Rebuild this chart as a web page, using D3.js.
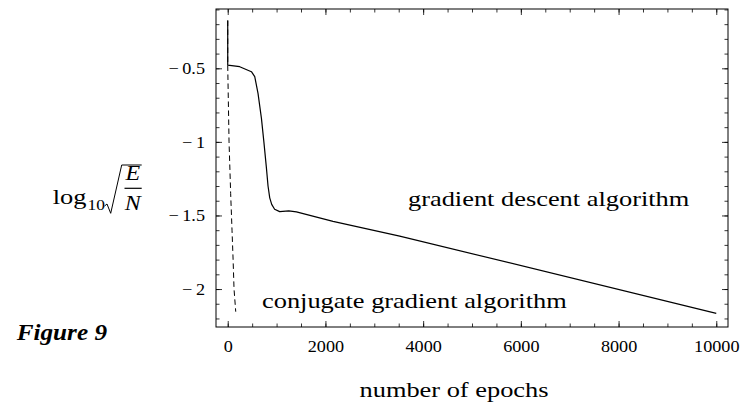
<!DOCTYPE html>
<html>
<head>
<meta charset="utf-8">
<script src="https://cdn.jsdelivr.net/npm/d3@7"></script>
<style>
  html, body { margin: 0; padding: 0; background: #fff; }
  svg { display: block; font-family: "Liberation Serif", "Times New Roman", serif; }
</style>
</head>
<body>
<svg id="chart" width="741" height="406"></svg>
<script>
// Training error, log10 sqrt(E/N), against epoch number
const gdEpochs = [0, 0, 245, 485, 553, 620, 690, 740, 790, 825, 860, 900, 960, 1064, 1250, 1406, 2155, 3520, 10000];
const gdError  = [-0.175, -0.478, -0.489, -0.523, -0.557, -0.67, -0.84, -1.0, -1.17, -1.3, -1.38, -1.425, -1.458, -1.474, -1.469, -1.476, -1.54, -1.64, -2.165];

const cgEpochs = [0, 0, 27, 60, 88, 110, 129, 164];
const cgError  = [-0.175, -0.48, -1.0, -1.35, -1.6, -1.8, -2.0, -2.154];

const epochTicks = [0, 2000, 4000, 6000, 8000, 10000];
const errorTicks = [-2, -1.5, -1, -0.5];
const errorTickLabels = ["\u2212\u20092", "\u2212\u20091.5", "\u2212\u20091", "\u2212\u20090.5"];

const svg = d3.select("#chart");
const frame = { left: 216, right: 728, top: 9, bottom: 327 };

const x = d3.scaleLinear().domain([-240, 10240]).range([frame.left, frame.right]);
const y = d3.scaleLinear().domain([-2.258, -0.097]).range([frame.bottom, frame.top]);

const TICK_FONT = 17, TICK_SX = 1.07;
const LABEL_FONT = 22, LABEL_SX = 1.2;

// frame
svg.append("rect")
  .attr("x", frame.left).attr("y", frame.top)
  .attr("width", frame.right - frame.left).attr("height", frame.bottom - frame.top)
  .attr("fill", "none").attr("stroke", "#000").attr("stroke-width", 1);

function styleAxis(g) {
  g.select(".domain").remove();
  g.selectAll("line").attr("stroke", "#000").attr("stroke-width", 0.8);
}

const minorEpochs = d3.range(0, 10001, 500);
const minorErrors = d3.range(-2.2, -0.05, 0.1);

// bottom axis (labelled)
svg.append("g").attr("transform", `translate(0,${frame.bottom})`)
  .call(d3.axisBottom(x).tickValues(minorEpochs).tickSizeInner(-3.5).tickSizeOuter(0).tickFormat(""))
  .call(styleAxis);
const bx = svg.append("g").attr("transform", `translate(0,${frame.bottom})`)
  .call(d3.axisBottom(x).tickValues(epochTicks).tickSizeInner(-6).tickSizeOuter(0).tickPadding(13).tickFormat(d3.format("d")))
  .call(styleAxis);
bx.selectAll("text")
  .attr("font-family", "Liberation Serif, Times New Roman, serif")
  .attr("font-size", TICK_FONT).attr("fill", "#000")
  .attr("transform", `scale(${TICK_SX},1)`);

// top axis (ticks only)
svg.append("g").attr("transform", `translate(0,${frame.top})`)
  .call(d3.axisTop(x).tickValues(minorEpochs).tickSizeInner(-3.5).tickSizeOuter(0).tickFormat(""))
  .call(styleAxis);
svg.append("g").attr("transform", `translate(0,${frame.top})`)
  .call(d3.axisTop(x).tickValues(epochTicks).tickSizeInner(-6).tickSizeOuter(0).tickFormat(""))
  .call(styleAxis);

// left axis (labelled)
svg.append("g").attr("transform", `translate(${frame.left},0)`)
  .call(d3.axisLeft(y).tickValues(minorErrors).tickSizeInner(-3.5).tickSizeOuter(0).tickFormat(""))
  .call(styleAxis);
const ly = svg.append("g").attr("transform", `translate(${frame.left},0)`)
  .call(d3.axisLeft(y).tickValues(errorTicks).tickSizeInner(-6).tickSizeOuter(0).tickPadding(11)
    .tickFormat((d, i) => errorTickLabels[i]))
  .call(styleAxis);
ly.selectAll("text")
  .attr("font-family", "Liberation Serif, Times New Roman, serif")
  .attr("font-size", TICK_FONT).attr("fill", "#000")
  .attr("x", -11 / TICK_SX)
  .attr("transform", `scale(${TICK_SX},1)`);

// right axis (ticks only)
svg.append("g").attr("transform", `translate(${frame.right},0)`)
  .call(d3.axisRight(y).tickValues(minorErrors).tickSizeInner(-3.5).tickSizeOuter(0).tickFormat(""))
  .call(styleAxis);
svg.append("g").attr("transform", `translate(${frame.right},0)`)
  .call(d3.axisRight(y).tickValues(errorTicks).tickSizeInner(-6).tickSizeOuter(0).tickFormat(""))
  .call(styleAxis);

// curves
const lineGD = d3.line().x(d => x(d[0])).y(d => y(d[1])).curve(d3.curveLinear);
const lineCG = d3.line().x(d => x(d[0])).y(d => y(d[1])).curve(d3.curveLinear);

svg.append("path")
  .datum(d3.zip(cgEpochs, cgError))
  .attr("d", lineCG)
  .attr("fill", "none").attr("stroke", "#000").attr("stroke-width", 1)
  .attr("stroke-dasharray", "5.5,3.5");

svg.append("path")
  .datum(d3.zip(gdEpochs, gdError))
  .attr("d", lineGD)
  .attr("fill", "none").attr("stroke", "#000").attr("stroke-width", 1.2)
  .attr("stroke-linejoin", "round");

// text helper: horizontally widened serif text
function addText(px, py, str, opts = {}) {
  const size = opts.size || LABEL_FONT;
  const sx = opts.sx || LABEL_SX;
  return svg.append("text")
    .attr("transform", `translate(${px},${py}) scale(${sx},1)`)
    .attr("text-anchor", opts.anchor || "start")
    .attr("font-size", size)
    .attr("font-style", opts.italic ? "italic" : "normal")
    .attr("font-weight", opts.bold ? "bold" : "normal")
    .attr("fill", "#000")
    .text(str);
}

addText(408, 206, "gradient descent algorithm");
addText(262, 307.5, "conjugate gradient algorithm");
addText(454, 397, "number of epochs", { anchor: "middle" });

// y-axis title: log10 sqrt(E/N)
addText(86.5, 204, "log", { anchor: "end" });
addText(87.5, 210, "10", { size: 14.5 });
svg.append("path")
  .attr("d", "M104.5,206 L107,204 L110.7,213.3 L121.7,165 H141.7")
  .attr("fill", "none").attr("stroke", "#000").attr("stroke-width", 1)
  .attr("stroke-linejoin", "miter");
addText(132.8, 180, "E", { size: 20, italic: true, anchor: "middle" });
svg.append("line")
  .attr("x1", 124.5).attr("x2", 141.7).attr("y1", 188.3).attr("y2", 188.3)
  .attr("stroke", "#000").attr("stroke-width", 1.2);
addText(132.8, 210, "N", { size: 20, italic: true, anchor: "middle" });

// figure caption
addText(107, 340, "Figure 9", { size: 24, sx: 1.05, bold: true, italic: true, anchor: "end" });
</script>
</body>
</html>
